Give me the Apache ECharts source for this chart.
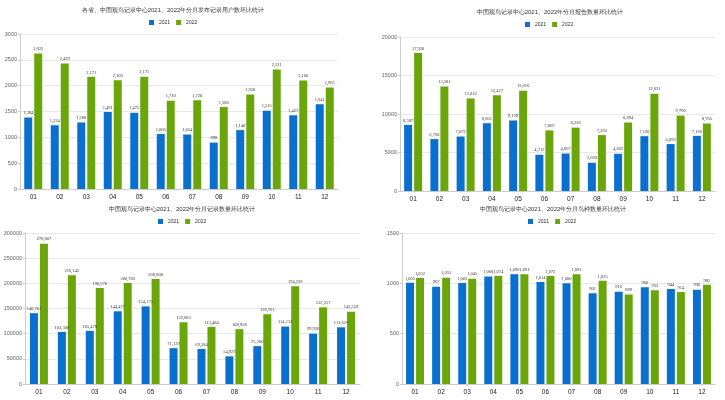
<!DOCTYPE html>
<html><head><meta charset="utf-8">
<script src="https://cdn.jsdelivr.net/npm/echarts@6/dist/echarts.min.js"></script>
<style>html,body{margin:0;padding:0;background:#fff}#c{width:725px;height:400px}</style>
</head><body><div id="c"></div>
<script>
const months = ['01','02','03','04','05','06','07','08','09','10','11','12'];
const seriesNames = ['2021','2022'];
const titles = [
  '各省、中国观鸟记录中心2021、2022年分月发布记录用户数环比统计',
  '中国观鸟记录中心2021、2022年分月报告数量环比统计',
  '中国观鸟记录中心2021、2022年分月记录数量环比统计',
  '中国观鸟记录中心2021、2022年分月鸟种数量环比统计'
];
const users2021 = [1384,1234,1288,1491,1475,1066,1054,898,1140,1515,1427,1641];
const users2022 = [2622,2429,2171,2106,2175,1710,1720,1586,1830,2311,2100,1965];
const reports2021 = [8587,6738,7072,8801,9159,4712,4867,3669,4832,7120,6093,7166];
const reports2022 = [17920,13581,12012,12427,13016,7869,8226,7263,8894,12631,9790,8765];
const records2021 = [140701,103308,105478,144477,154175,71139,69584,54927,75200,114132,99926,112627];
const records2022 = [278807,216145,190570,200783,208808,122683,113484,108958,138761,194239,152257,143559];
const species2021 = [1005,967,1003,1068,1090,1014,1000,901,916,960,944,936];
const species2022 = [1052,1055,1045,1074,1091,1072,1091,1025,889,932,914,985];
const yMax = [3000,20000,300000,1500];
const yStep = [500,5000,50000,500];

const BLUE = '#0a70d0', GREEN = '#6aa60a';
const grids = [
  {left:20, right:387, top:34, bottom:211},
  {left:400, right:10, top:37, bottom:209},
  {left:25, right:365, top:233, bottom:16},
  {left:402, right:10, top:233, bottom:16}
];
const titlePos = [[173,7],[550,9],[182,206],[553,206]];
const legendPos = [[173,20],[549,22],[182,219],[552,219]];
const data = [[users2021,users2022],[reports2021,reports2022],[records2021,records2022],[species2021,species2022]];

const fmt = v => Number(v).toLocaleString('en-US');
const option = {
  animation:false,
  color:[BLUE,GREEN],
  title: titles.map((t,i)=>({text:t, left:titlePos[i][0], top:titlePos[i][1], textAlign:'center', padding:0,
    textStyle:{fontSize:6, fontWeight:'normal', color:'#333'}})),
  legend: legendPos.map((p,i)=>({data:seriesNames, left:p[0]-24, top:p[1], padding:0, itemWidth:5, itemHeight:5, itemGap:6,
    icon:'rect', textStyle:{fontSize:5, color:'#333'}})),
  grid: grids.map(g=>Object.assign({containLabel:false}, g)),
  xAxis: grids.map((g,i)=>({type:'category', gridIndex:i, data:months,
    axisLine:{lineStyle:{color:'#ccc'}}, axisTick:{alignWithLabel:false, length:3, lineStyle:{color:'#ccc'}},
    axisLabel:{fontSize:6.5, color:'#222', margin:5}})),
  yAxis: grids.map((g,i)=>({type:'value', gridIndex:i, min:0, max:yMax[i], interval:yStep[i],
    axisLine:{show:true, lineStyle:{color:'#ccc'}}, axisTick:{show:true, length:2, lineStyle:{color:'#ccc'}},
    splitLine:{lineStyle:{color:'#e8e8e8'}},
    axisLabel:{fontSize:5.5, color:'#666', margin:3, formatter:v=>String(v)}})),
  series: []
};
data.forEach((pair,i)=>{
  pair.forEach((vals,k)=>{
    option.series.push({
      name: seriesNames[k], type:'bar', xAxisIndex:i, yAxisIndex:i, data: vals,
      barWidth:8, barGap:'25%',
      itemStyle:{color: k===0?BLUE:GREEN},
      label:{show:true, position:'top', distance:2, fontSize:4.5, color:'#333', fontFamily:'serif', formatter:p=>fmt(p.value)}
    });
  });
});
const chart = echarts.init(document.getElementById('c'), null, {renderer:'canvas'});
chart.setOption(option);
</script></body></html>
